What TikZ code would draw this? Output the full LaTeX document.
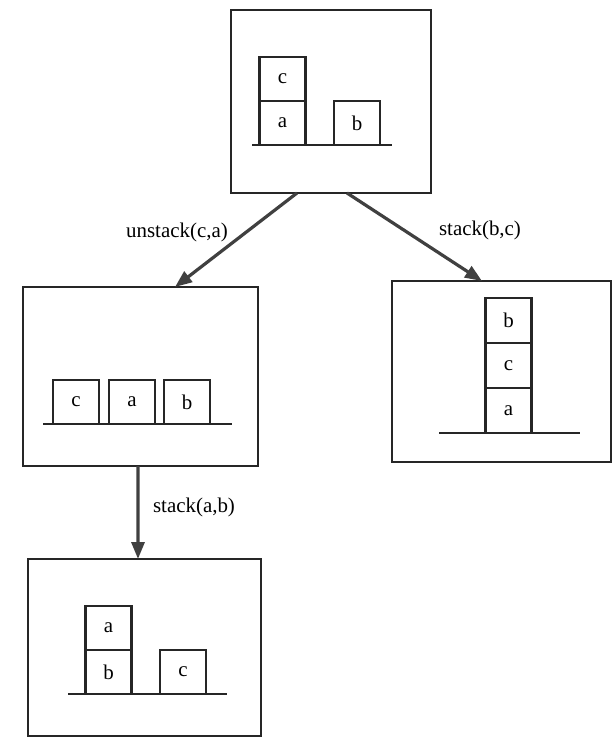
\documentclass[tikz,border=0pt]{standalone}
\usepackage{fontspec}
\setmainfont{Liberation Serif}
\usetikzlibrary{arrows.meta}
\definecolor{ink}{gray}{0.15}
\definecolor{arrowink}{gray}{0.25}
\tikzset{
  state/.style={draw=ink, line width=2.8bp, minimum width=#1, inner sep=0pt, outer sep=0pt},
  blk/.style={draw=ink, line width=2.4bp, minimum width=46bp, minimum height=44bp, inner sep=0pt, outer sep=0pt,
    font=\fontsize{21}{23}\selectfont},
  ground/.style={draw=ink, line width=2.8bp},
  move/.style={draw=arrowink, line width=3.2bp, -{Triangle[length=17bp,width=13bp]}},
  lbl/.style={font=\fontsize{21}{24}\selectfont, inner sep=0pt},
}
\begin{document}
\begin{tikzpicture}[x=1bp, y=-1bp]
\useasboundingbox (0,0) rectangle (612,738);

% the four states
\node[state=200bp, minimum height=183bp] (s0) at (331,101.5) {};
\node[state=235bp, minimum height=179bp] (s1) at (140.5,376.5) {};
\node[state=219bp, minimum height=181bp] (s2) at (501.5,371.5) {};
\node[state=233bp, minimum height=177bp] (s3) at (144.5,647.5) {};

% initial state: c on a, b alone
\draw[ground] (252,145) -- (392,145);
\node[blk] (s0a) at (282.5,123) {a};
\node[blk] (s0c) at (282.5,79) {c};
\node[blk] (s0b) at (357,123) {b};

% after unstack(c,a)
\draw[ground] (43,424) -- (232,424);
\node[blk] (s1c) at (76,402) {c};
\node[blk] (s1a) at (132,402) {a};
\node[blk] (s1b) at (187,402) {b};

% after stack(b,c)
\draw[ground] (439,433) -- (580,433);
\node[blk, minimum height=45bp] (s2a) at (508.5,410.5) {a};
\node[blk, minimum height=45bp] (s2c) at (508.5,365.5) {c};
\node[blk, minimum height=45bp] (s2b) at (508.5,320.5) {b};

% after stack(a,b)
\draw[ground] (68,694) -- (227,694);
\node[blk] (s3b) at (108.5,672) {b};
\node[blk] (s3a) at (108.5,628) {a};
\node[blk] (s3c) at (183,672) {c};

% moves
\coordinate (m1s) at ([xshift=-34bp]s0.south);
\coordinate (m1e) at ([xshift=34.5bp]s1.north);
\coordinate (m2s) at ([xshift=16bp]s0.south);
\coordinate (m2e) at ([xshift=-19.5bp]s2.north);
\coordinate (m3s) at ([xshift=-2.5bp]s1.south);
\coordinate (m3e) at ([xshift=-6.5bp]s3.north);
\draw[move] (m1s) -- (m1e);
\draw[move] (m2s) -- (m2e);
\draw[move] (m3s) -- (m3e);

\node[lbl] (l1) at (177,232) {unstack(c,a)};
\node[lbl] (l2) at (480,230) {stack(b,c)};
\node[lbl] (l3) at (194,507) {stack(a,b)};
\end{tikzpicture}
\end{document}
